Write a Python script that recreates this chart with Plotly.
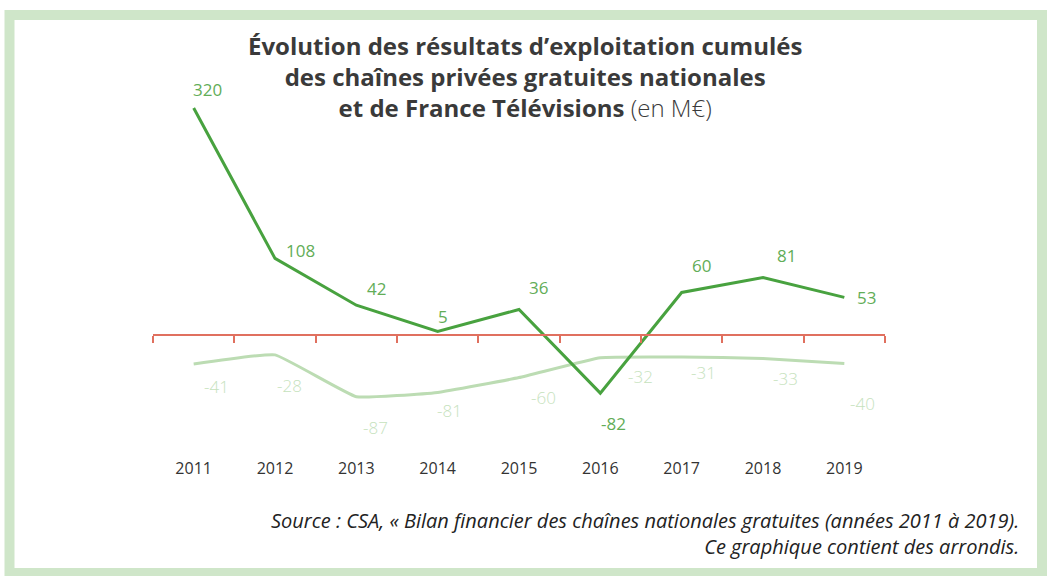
import plotly.graph_objects as go

# données (en M€)
annees = ['2011', '2012', '2013', '2014', '2015', '2016', '2017', '2018', '2019']
chaines_privees = [320, 108, 42, 5, 36, -82, 60, 81, 53]
france_televisions = [-41, -28, -87, -81, -60, -32, -31, -33, -40]

# décalage des étiquettes (px) par rapport aux points
decal_prive = [(14, 18), (25, 8), (20, 17), (5, 15), (19, 22), (13, -30), (20, 27), (23, 22), (22, 0)]
decal_ftv = [(23, -22), (14, -31), (19, -31), (12, -18), (24, -20), (40, -19), (22, -16), (22, -20), (18, -40)]

W, H = 1047, 576
L, R, T, B = 153, 162, 80, 119
PW, PH = W - L - R, H - T - B
ZERO = 335        # position verticale du zéro (px)
ECHELLE = 0.7094  # px par M€

def px(x):
    return (x - L) / PW

def py(y):
    return (H - B - y) / PH

vert_fonce = '#48a23f'
vert_clair = '#bcdcb3'
vert_label = '#62ad57'
vert_label_clair = '#c6e2bd'
rouge = '#e0705f'

fig = go.Figure()

fig.add_trace(go.Scatter(
    x=annees, y=france_televisions,
    mode='lines',
    line=dict(color=vert_clair, width=3, shape='spline', smoothing=0.3),
    hoverinfo='skip', showlegend=False
))

fig.add_trace(go.Scatter(
    x=annees, y=chaines_privees,
    mode='lines',
    line=dict(color=vert_fonce, width=3),
    hoverinfo='skip', showlegend=False
))

# trace invisible pour l'axe du zéro
fig.add_trace(go.Scatter(
    x=annees, y=chaines_privees, xaxis='x2',
    mode='lines', opacity=0, hoverinfo='skip', showlegend=False
))

for i, (v, (dx, dy)) in enumerate(zip(chaines_privees, decal_prive)):
    fig.add_annotation(x=i, y=v, text=str(v), showarrow=False, xshift=dx, yshift=dy,
                       font=dict(family='Open Sans', size=17, color=vert_label))

for i, (v, (dx, dy)) in enumerate(zip(france_televisions, decal_ftv)):
    fig.add_annotation(x=i, y=v, text=str(v), showarrow=False, xshift=dx, yshift=dy,
                       font=dict(family='Open Sans', size=17, color=vert_label_clair, weight=300))

# titre
fig.add_annotation(
    xref='paper', yref='paper', x=px(525), y=py(76), xanchor='center', yanchor='middle',
    text="<b>Évolution des résultats d’exploitation cumulés<br>"
         "des chaînes privées gratuites nationales<br>"
         "et de France Télévisions</b> (en M€)",
    showarrow=False, align='center',
    font=dict(family='Open Sans', size=24, color='#3a3a3a', weight=300)
)

# source
fig.add_annotation(
    xref='paper', yref='paper', x=px(1021), y=py(533), xanchor='right', yanchor='middle',
    text="<i>Source : CSA, « Bilan financier des chaînes nationales gratuites (années 2011 à 2019).<br>"
         "Ce graphique contient des arrondis.</i>",
    showarrow=False, align='right',
    font=dict(family='Open Sans', size=20, color='#222222')
)

# cadre vert
fig.add_shape(type='rect', xref='paper', yref='paper',
              x0=px(9.5), x1=px(1042), y0=py(15), y1=py(573),
              line=dict(color='#cfe6c9', width=10), fillcolor='rgba(0,0,0,0)', layer='below')

y_haut = (ZERO - T) / ECHELLE
y_bas = -(H - B - ZERO) / ECHELLE

fig.update_layout(
    width=W, height=H,
    margin=dict(l=L, r=R, t=T, b=B),
    paper_bgcolor='white', plot_bgcolor='white',
    font=dict(family='Open Sans'),
    xaxis=dict(type='category', range=[-0.5, 8.5], showgrid=False, zeroline=False,
               showline=False, ticks='', tickfont=dict(size=16, color='#333333')),
    xaxis2=dict(type='category', overlaying='x', anchor='free', position=py(ZERO),
                range=[-0.5, 8.5], showgrid=False, zeroline=False, showticklabels=False,
                showline=True, linecolor=rouge, linewidth=2,
                ticks='outside', tickson='boundaries', ticklen=7, tickwidth=2, tickcolor=rouge),
    yaxis=dict(range=[y_bas, y_haut], showgrid=False, zeroline=False, showticklabels=False),
)

fig.write_html("out.html", config={'displayModeBar': False},
               post_script="document.body.style.margin='0';")
